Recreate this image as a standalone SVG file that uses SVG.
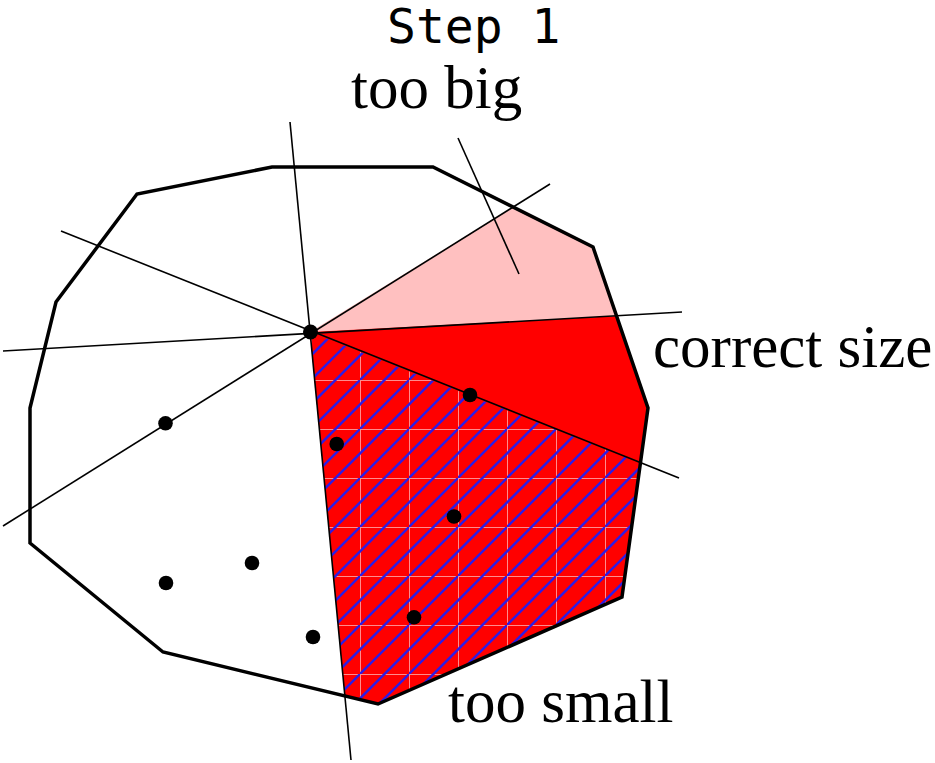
<svg xmlns="http://www.w3.org/2000/svg" width="935" height="763" viewBox="0 0 935 763">
<style>
.serif{font-family:"Liberation Serif","Times New Roman",serif;font-size:61px;fill:#000}
.mono{font-family:"DejaVu Sans Mono","Liberation Mono",monospace;font-size:48px;fill:#000}
.thin{stroke:#000;stroke-width:1.6;fill:none}
.dot{fill:#000}
</style>
<defs>
<pattern id="hatch" patternUnits="userSpaceOnUse" x="17" y="37" width="49" height="49">
<rect width="49" height="49" fill="#ff0000"/>
<path d="M0,0.5 H49 M0.5,0 V49" stroke="#ff8c8c" stroke-width="1"/>
<path d="M-2,26.5 L26.5,-2 M-2,51 L51,-2 M22.5,51 L51,22.5" stroke="#2c1ce6" stroke-width="2.4"/>
</pattern>
</defs>
<g id="regions">
<path id="too-big-region" d="M310,332 L513,207 L593,247 L616.5,316 Z" fill="#ffc0c0"/>
<path id="correct-region" d="M310,332 L616.5,316 L648,408 L622,597 L378,704 L345,696 Z" fill="#ff0000"/>
<path id="too-small-region" d="M310,332 L640,463 L622,597 L378,704 L345,696 Z" fill="url(#hatch)"/>
</g>
<g id="connectors">
<line class="thin" x1="290" y1="122" x2="351" y2="760"/>
<line class="thin" x1="61" y1="231" x2="679" y2="478"/>
<line class="thin" x1="3" y1="351" x2="682" y2="312"/>
<line class="thin" x1="3" y1="526" x2="550" y2="184"/>
<line class="thin" x1="458" y1="138" x2="519" y2="274"/>
</g>
<g id="outline">
<polygon points="272,167 433,167 593,247 648,408 622,597 378,704 163,652 30,543 30,408 56,302 137,194" fill="none" stroke="#000" stroke-width="3.5" stroke-linejoin="miter"/>
</g>
<g id="points">
<circle class="dot" cx="310.5" cy="332" r="7.5"/>
<circle class="dot" cx="165.5" cy="423.3" r="7.3"/>
<circle class="dot" cx="470" cy="395" r="7.3"/>
<circle class="dot" cx="336.7" cy="444" r="7.3"/>
<circle class="dot" cx="454" cy="516.5" r="7.3"/>
<circle class="dot" cx="252" cy="563" r="7.3"/>
<circle class="dot" cx="166" cy="583" r="7.3"/>
<circle class="dot" cx="313" cy="637" r="7.3"/>
<circle class="dot" cx="414" cy="617.3" r="7.3"/>
</g>
<g id="labels">
<text id="title" class="mono" x="387" y="43">Step 1</text>
<text id="label-too-big" class="serif" x="351" y="108">too big</text>
<text id="label-correct" class="serif" x="653" y="367">correct size</text>
<text id="label-too-small" class="serif" x="448" y="722">too small</text>
</g>
</svg>
